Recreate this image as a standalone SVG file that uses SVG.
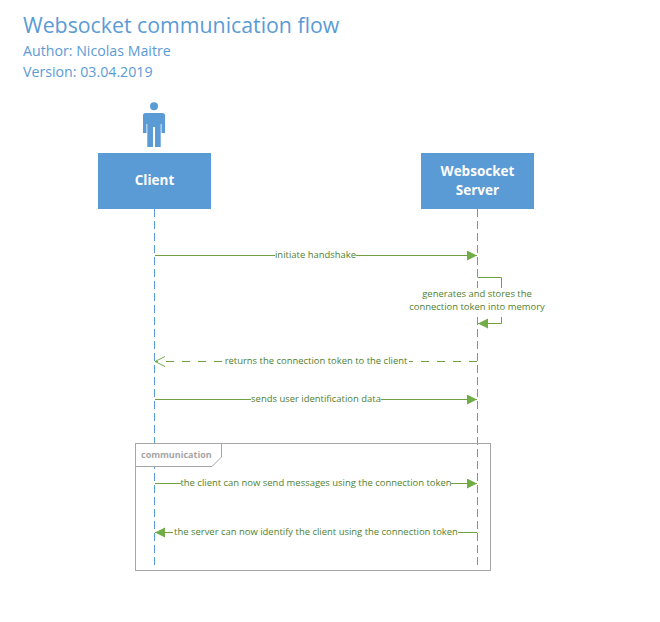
<svg xmlns="http://www.w3.org/2000/svg" width="660" height="622" viewBox="0 0 660 622">
<style>
text{font-family:"Open Sans","Noto Sans","Liberation Sans",sans-serif}
.h{fill:#5b9bd5}
.box{fill:#5b9bd5}
.bl{fill:#fff;font-size:13.500px;font-weight:700;text-anchor:middle}
.life{stroke:#5b9bd5;stroke-width:1;stroke-dasharray:8 4;fill:none}
.msg{stroke:#70a040;stroke-width:1;fill:none}
.lbl{fill:#4f7f30;font-size:9.450px;text-anchor:middle}
.frame{stroke:#a6a6a6;stroke-width:1;fill:none}
</style>
<defs>
<marker id="solid" markerUnits="userSpaceOnUse" markerWidth="12" markerHeight="12" refX="10" refY="5" orient="auto"><path d="M0 0L10 5L0 10Z" fill="#70ad47"/></marker>
<marker id="open" markerUnits="userSpaceOnUse" markerWidth="12" markerHeight="12" refX="11" refY="5.500" orient="auto"><path d="M1 0.500L11 5.500L1 10.500" fill="none" stroke="#70ad47" stroke-width="1"/></marker>
</defs>
<g id="title">
<text x="23" y="33" class="h" font-size="21.300">Websocket communication flow</text>
<text x="23" y="56" class="h" font-size="14.200">Author: Nicolas Maitre</text>
<text x="23" y="77" class="h" font-size="14.200">Version: 03.04.2019</text>
</g>
<g id="actor" class="h">
<circle cx="154" cy="106.300" r="4"/>
<path d="M145.500 113H162.500Q165 113 165 115.500V133H161.500V124H160.700V147H155V127H153V147H147.300V124H146.500V133H143V115.500Q143 113 145.500 113Z"/>
</g>
<g id="connectors">
<path class="life" d="M154.500 209V568"/>
<path class="life" d="M477.500 209V568"/>
<path class="msg" d="M155 255.500H275M356 255.500H477" marker-end="url(#solid)"/>
<path class="msg" d="M477.500 277.500H501.500V288M501.500 314V323.500H478" marker-end="url(#solid)"/>
<path class="msg" stroke-dasharray="8 8" d="M477 361.500H409M222 361.500H155" marker-end="url(#open)"/>
<path class="msg" d="M155 399.500H251M381 399.500H477" marker-end="url(#solid)"/>
<path class="msg" d="M155 483.500H181M451 483.500H477" marker-end="url(#solid)"/>
<path class="msg" d="M477 532.500H458M173 532.500H155" marker-end="url(#solid)"/>
</g>
<g id="frame-communication">
<rect class="frame" x="135.500" y="443.500" width="355" height="127"/>
<path d="M135.500 466.500H212L221.500 457V443.500H135.500Z" fill="#fff" stroke="#a6a6a6"/>
<text x="141" y="458" fill="#a6a6a6" font-size="9" font-weight="700">communication</text>
</g>
<g id="client"><rect class="box" x="98" y="153" width="113" height="56"/><text class="bl" x="154.500" y="185">Client</text></g>
<g id="server"><rect class="box" x="421" y="153" width="113" height="56"/><text class="bl" x="477.500" y="176">Websocket</text><text class="bl" x="477.500" y="195">Server</text></g>
<g id="labels">
<text class="lbl" x="315.500" y="258">initiate handshake</text>
<rect x="409" y="288" width="137" height="29" fill="#fff"/>
<text class="lbl" x="477" y="297">generates and stores the</text>
<text class="lbl" x="477" y="310">connection token into memory</text>
<text class="lbl" x="316" y="364">returns the connection token to the client</text>
<text class="lbl" x="316" y="402">sends user identification data</text>
<text class="lbl" x="316" y="486">the client can now send messages using the connection token</text>
<text class="lbl" x="316" y="535">the server can now identify the client using the connection token</text>
</g>
</svg>
